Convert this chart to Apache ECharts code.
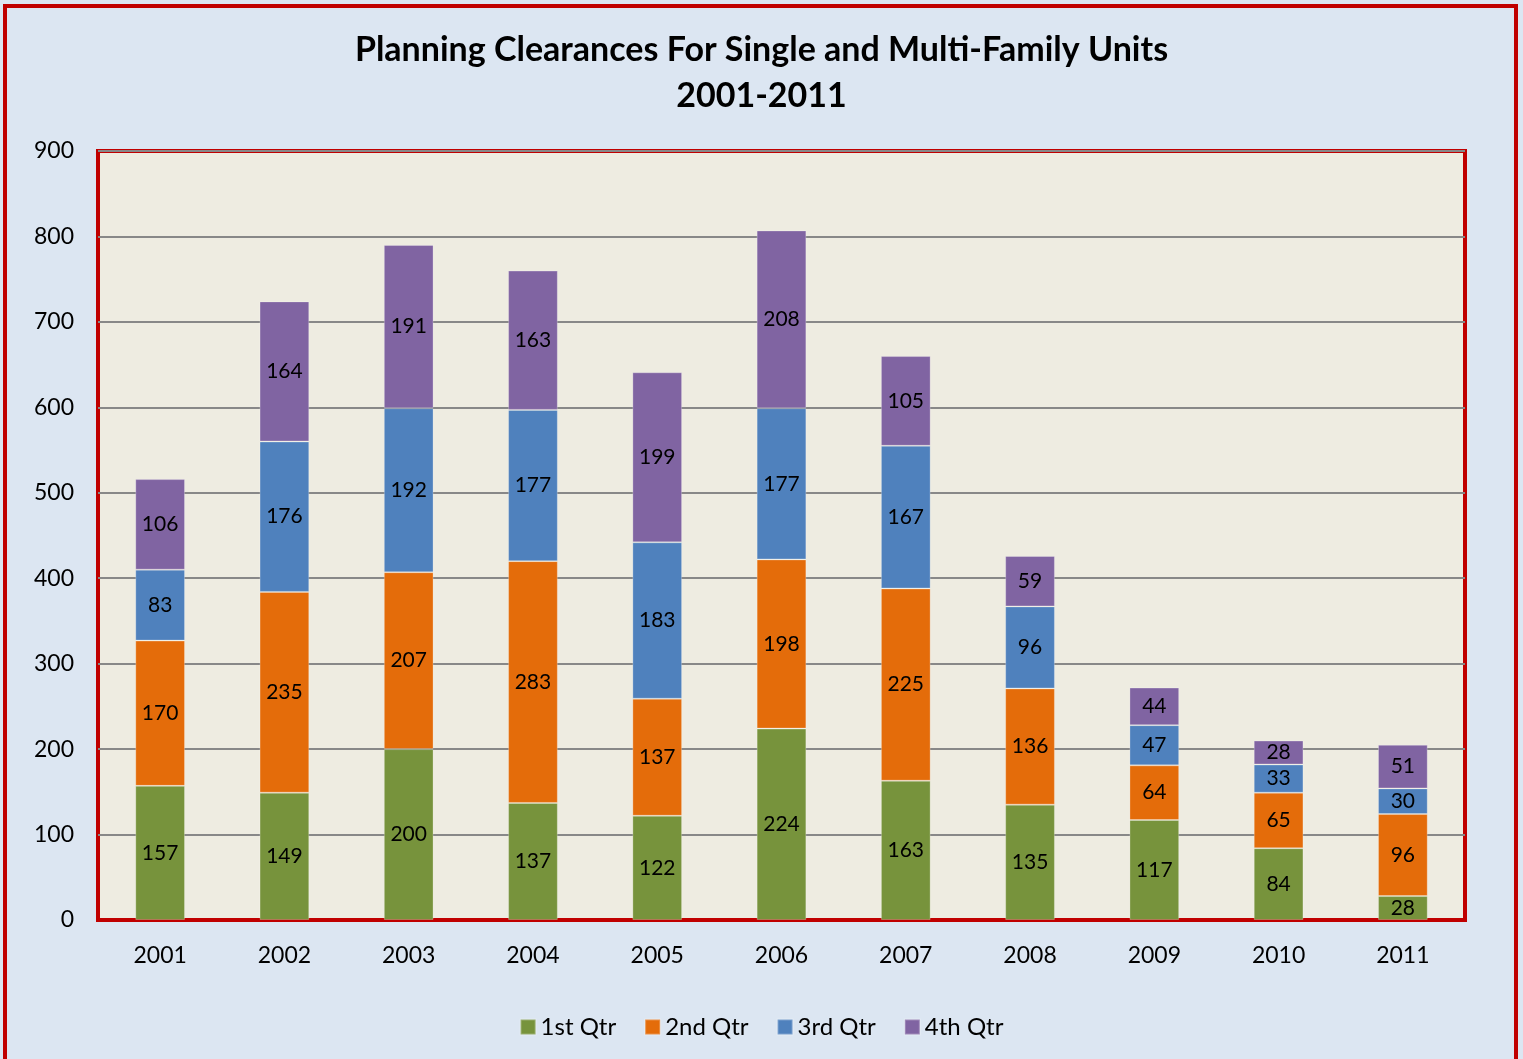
<!DOCTYPE html>
<html>
<head>
<meta charset="utf-8">
<script src="https://cdn.jsdelivr.net/npm/echarts@6/dist/echarts.min.js"></script>
<style>
  html, body { margin: 0; padding: 0; background: #DCE6F2; }
  #chart { width: 1523px; height: 1059px; }
</style>
</head>
<body>
<div id="chart"></div>
<script>
  // 数据
  const years = ['2001', '2002', '2003', '2004', '2005', '2006', '2007', '2008', '2009', '2010', '2011']
  const qtr1 = [157, 149, 200, 137, 122, 224, 163, 135, 117, 84, 28]
  const qtr2 = [170, 235, 207, 283, 137, 198, 225, 136, 64, 65, 96]
  const qtr3 = [83, 176, 192, 177, 183, 177, 167, 96, 47, 33, 30]
  const qtr4 = [106, 164, 191, 163, 199, 208, 105, 59, 44, 28, 51]
  const seriesNames = ['1st Qtr', '2nd Qtr', '3rd Qtr', '4th Qtr']
  const colors = ['#77933C', '#E46C0A', '#4F81BD', '#8064A2']

  const font = 'Lato, "Open Sans", sans-serif'
  const chart = echarts.init(document.getElementById('chart'))

  const makeSeries = (name, data, color) => ({
    name: name,
    type: 'bar',
    stack: 'total',
    barWidth: '40%',
    data: data,
    itemStyle: {
      color: color,
      borderColor: 'rgba(255,255,255,0.25)',
      borderWidth: 1
    },
    label: {
      show: true,
      position: 'inside',
      color: '#000',
      fontFamily: font,
      fontSize: 21
    }
  })

  chart.setOption({
    backgroundColor: '#DCE6F2',
    animation: false,
    textStyle: { fontFamily: font },
    color: colors,
    title: {
      text: 'Planning Clearances For Single and Multi-Family Units\n2001-2011',
      left: 'center',
      top: 22,
      textStyle: {
        fontFamily: font,
        fontSize: 34,
        fontWeight: 'bold',
        color: '#000',
        lineHeight: 46
      }
    },
    legend: {
      data: seriesNames,
      top: 1010,
      left: 'center',
      icon: 'rect',
      itemWidth: 15,
      itemHeight: 15,
      itemGap: 28,
      textStyle: { fontFamily: font, fontSize: 24, color: '#000' }
    },
    grid: {
      left: 98,
      right: 58,
      top: 151,
      bottom: 139,
      show: true,
      backgroundColor: '#EEECE1',
      borderColor: '#C00000',
      borderWidth: 4
    },
    xAxis: {
      type: 'category',
      data: years,
      axisTick: { show: false },
      axisLine: { lineStyle: { color: '#C00000', width: 2 } },
      axisLabel: { fontFamily: font, fontSize: 23, color: '#000', margin: 24 }
    },
    yAxis: {
      type: 'value',
      min: 0,
      max: 900,
      interval: 100,
      axisLabel: { fontFamily: font, fontSize: 23, color: '#000', margin: 24 },
      splitLine: { lineStyle: { color: '#888888', width: 2 } },
      axisLine: { show: false },
      axisTick: { show: false }
    },
    graphic: [{
      type: 'rect',
      shape: { x: 5, y: 6, width: 1511, height: 1100 },
      style: { fill: 'none', stroke: '#C00000', lineWidth: 4 },
      silent: true
    }],
    series: [
      makeSeries(seriesNames[0], qtr1, colors[0]),
      makeSeries(seriesNames[1], qtr2, colors[1]),
      makeSeries(seriesNames[2], qtr3, colors[2]),
      makeSeries(seriesNames[3], qtr4, colors[3])
    ]
  })
</script>
</body>
</html>
